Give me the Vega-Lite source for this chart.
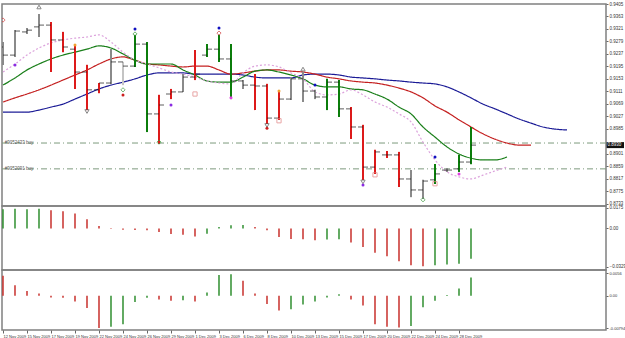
{
  "$schema": "https://vega.github.io/schema/vega-lite/v6.json",
  "background": "white",
  "padding": {"left": 0, "top": 0, "right": 0, "bottom": 0},
  "spacing": 0,
  "bounds": "flush",
  "config": {
    "view": {"stroke": "#808080", "strokeWidth": 1.5},
    "font": "Liberation Sans",
    "axis": {"labelFont": "Liberation Sans", "labelFontSize": 4.5, "labelColor": "#333333", "tickColor": "#666666", "grid": false, "domain": false, "title": null, "labelOverlap": false, "labelBound": false, "labelFlush": false, "tickCount": 100}
  },
  "datasets": {
    "bars": [
      {"i":0,"o":0.9260,"h":0.9277,"l":0.9200,"c":0.9233,"d":"n"},
      {"i":1,"o":0.9233,"h":0.9317,"l":0.9227,"c":0.9314,"d":"n"},
      {"i":2,"o":0.9311,"h":0.9324,"l":0.9304,"c":0.9317,"d":"n"},
      {"i":3,"o":0.9328,"h":0.9371,"l":0.9294,"c":0.9334,"d":"n"},
      {"i":4,"o":0.9334,"h":0.9344,"l":0.9176,"c":0.9284,"d":"d"},
      {"i":5,"o":0.9284,"h":0.9311,"l":0.9243,"c":0.9260,"d":"d"},
      {"i":6,"o":0.9253,"h":0.9270,"l":0.9119,"c":0.9176,"d":"d"},
      {"i":7,"o":0.9176,"h":0.9200,"l":0.9048,"c":0.9116,"d":"d"},
      {"i":8,"o":0.9116,"h":0.9139,"l":0.9105,"c":0.9139,"d":"d"},
      {"i":9,"o":0.9139,"h":0.9253,"l":0.9136,"c":0.9210,"d":"n"},
      {"i":10,"o":0.9210,"h":0.9210,"l":0.9132,"c":0.9196,"d":"l"},
      {"i":11,"o":0.9196,"h":0.9301,"l":0.9193,"c":0.9270,"d":"u"},
      {"i":12,"o":0.9270,"h":0.9277,"l":0.8974,"c":0.9035,"d":"u"},
      {"i":13,"o":0.9035,"h":0.9099,"l":0.8934,"c":0.9065,"d":"d"},
      {"i":14,"o":0.9102,"h":0.9119,"l":0.9085,"c":0.9109,"d":"d"},
      {"i":15,"o":0.9109,"h":0.9169,"l":0.9109,"c":0.9159,"d":"n"},
      {"i":16,"o":0.9159,"h":0.9250,"l":0.9149,"c":0.9169,"d":"d"},
      {"i":17,"o":0.9233,"h":0.9270,"l":0.9227,"c":0.9253,"d":"u"},
      {"i":18,"o":0.9253,"h":0.9301,"l":0.9210,"c":0.9220,"d":"u"},
      {"i":19,"o":0.9220,"h":0.9270,"l":0.9085,"c":0.9146,"d":"u"},
      {"i":20,"o":0.9146,"h":0.9149,"l":0.9119,"c":0.9132,"d":"n"},
      {"i":21,"o":0.9132,"h":0.9169,"l":0.9048,"c":0.9129,"d":"d"},
      {"i":22,"o":0.9129,"h":0.9136,"l":0.9001,"c":0.9021,"d":"d"},
      {"i":23,"o":0.9021,"h":0.9112,"l":0.9015,"c":0.9085,"d":"d"},
      {"i":24,"o":0.9085,"h":0.9159,"l":0.9082,"c":0.9153,"d":"n"},
      {"i":25,"o":0.9153,"h":0.9176,"l":0.9075,"c":0.9112,"d":"n"},
      {"i":26,"o":0.9112,"h":0.9116,"l":0.9085,"c":0.9092,"d":"n"},
      {"i":27,"o":0.9092,"h":0.9153,"l":0.9048,"c":0.9142,"d":"u"},
      {"i":28,"o":0.9142,"h":0.9149,"l":0.9025,"c":0.9052,"d":"u"},
      {"i":29,"o":0.9052,"h":0.9058,"l":0.8951,"c":0.8991,"d":"d"},
      {"i":30,"o":0.8991,"h":0.8998,"l":0.8813,"c":0.8856,"d":"d"},
      {"i":31,"o":0.8856,"h":0.8914,"l":0.8833,"c":0.8907,"d":"d"},
      {"i":32,"o":0.8897,"h":0.8910,"l":0.8887,"c":0.8897,"d":"d"},
      {"i":33,"o":0.8897,"h":0.8907,"l":0.8789,"c":0.8816,"d":"d"},
      {"i":34,"o":0.8816,"h":0.8846,"l":0.8755,"c":0.8779,"d":"n"},
      {"i":35,"o":0.8779,"h":0.8813,"l":0.8749,"c":0.8809,"d":"n"},
      {"i":36,"o":0.8813,"h":0.8866,"l":0.8799,"c":0.8833,"d":"u"},
      {"i":37,"o":0.8846,"h":0.8853,"l":0.8840,"c":0.8846,"d":"n"},
      {"i":38,"o":0.8850,"h":0.8897,"l":0.8840,"c":0.8873,"d":"u"},
      {"i":39,"o":0.8873,"h":0.8991,"l":0.8866,"c":0.8930,"d":"u"}
    ],
    "lines": [
      {"i":0,"s":"jaw","v":0.9041},{"i":1,"s":"jaw","v":0.9041},{"i":2,"s":"jaw","v":0.9041},{"i":3,"s":"jaw","v":0.9048},{"i":4,"s":"jaw","v":0.9058},{"i":5,"s":"jaw","v":0.9068},{"i":6,"s":"jaw","v":0.9085},{"i":7,"s":"jaw","v":0.9102},{"i":8,"s":"jaw","v":0.9119},{"i":9,"s":"jaw","v":0.9132},{"i":10,"s":"jaw","v":0.9142},{"i":11,"s":"jaw","v":0.9153},{"i":12,"s":"jaw","v":0.9166},{"i":13,"s":"jaw","v":0.9173},{"i":14,"s":"jaw","v":0.9173},{"i":15,"s":"jaw","v":0.9173},{"i":16,"s":"jaw","v":0.9169},{"i":17,"s":"jaw","v":0.9169},{"i":18,"s":"jaw","v":0.9169},{"i":19,"s":"jaw","v":0.9169},{"i":20,"s":"jaw","v":0.9166},{"i":21,"s":"jaw","v":0.9159},{"i":22,"s":"jaw","v":0.9156},{"i":23,"s":"jaw","v":0.9156},{"i":24,"s":"jaw","v":0.9156},{"i":25,"s":"jaw","v":0.9166},{"i":26,"s":"jaw","v":0.9169},{"i":27,"s":"jaw","v":0.9169},{"i":28,"s":"jaw","v":0.9166},{"i":29,"s":"jaw","v":0.9159},{"i":30,"s":"jaw","v":0.9156},{"i":31,"s":"jaw","v":0.9153},{"i":32,"s":"jaw","v":0.9149},{"i":33,"s":"jaw","v":0.9146},{"i":34,"s":"jaw","v":0.9142},{"i":35,"s":"jaw","v":0.9139},{"i":36,"s":"jaw","v":0.9136},{"i":37,"s":"jaw","v":0.9126},{"i":38,"s":"jaw","v":0.9109},{"i":39,"s":"jaw","v":0.9089},{"i":40,"s":"jaw","v":0.9068},{"i":41,"s":"jaw","v":0.9052},{"i":42,"s":"jaw","v":0.9035},{"i":43,"s":"jaw","v":0.9018},{"i":44,"s":"jaw","v":0.9004},{"i":45,"s":"jaw","v":0.8991},{"i":46,"s":"jaw","v":0.8984},{"i":47,"s":"jaw","v":0.8981},
      {"i":0,"s":"teeth","v":0.9075},{"i":1,"s":"teeth","v":0.9089},{"i":2,"s":"teeth","v":0.9102},{"i":3,"s":"teeth","v":0.9116},{"i":4,"s":"teeth","v":0.9132},{"i":5,"s":"teeth","v":0.9149},{"i":6,"s":"teeth","v":0.9166},{"i":7,"s":"teeth","v":0.9183},{"i":8,"s":"teeth","v":0.9203},{"i":9,"s":"teeth","v":0.9220},{"i":10,"s":"teeth","v":0.9227},{"i":11,"s":"teeth","v":0.9216},{"i":12,"s":"teeth","v":0.9203},{"i":13,"s":"teeth","v":0.9200},{"i":14,"s":"teeth","v":0.9196},{"i":15,"s":"teeth","v":0.9193},{"i":16,"s":"teeth","v":0.9196},{"i":17,"s":"teeth","v":0.9196},{"i":18,"s":"teeth","v":0.9183},{"i":19,"s":"teeth","v":0.9169},{"i":20,"s":"teeth","v":0.9173},{"i":21,"s":"teeth","v":0.9179},{"i":22,"s":"teeth","v":0.9183},{"i":23,"s":"teeth","v":0.9183},{"i":24,"s":"teeth","v":0.9179},{"i":25,"s":"teeth","v":0.9176},{"i":26,"s":"teeth","v":0.9169},{"i":27,"s":"teeth","v":0.9159},{"i":28,"s":"teeth","v":0.9153},{"i":29,"s":"teeth","v":0.9146},{"i":30,"s":"teeth","v":0.9142},{"i":31,"s":"teeth","v":0.9139},{"i":32,"s":"teeth","v":0.9132},{"i":33,"s":"teeth","v":0.9122},{"i":34,"s":"teeth","v":0.9109},{"i":35,"s":"teeth","v":0.9089},{"i":36,"s":"teeth","v":0.9062},{"i":37,"s":"teeth","v":0.9041},{"i":38,"s":"teeth","v":0.9015},{"i":39,"s":"teeth","v":0.8991},{"i":40,"s":"teeth","v":0.8968},{"i":41,"s":"teeth","v":0.8950},{"i":42,"s":"teeth","v":0.8937},{"i":43,"s":"teeth","v":0.8930},{"i":44,"s":"teeth","v":0.8930},
      {"i":0,"s":"lips","v":0.9132},{"i":1,"s":"lips","v":0.9156},{"i":2,"s":"lips","v":0.9183},{"i":3,"s":"lips","v":0.9203},{"i":4,"s":"lips","v":0.9220},{"i":5,"s":"lips","v":0.9233},{"i":6,"s":"lips","v":0.9243},{"i":7,"s":"lips","v":0.9253},{"i":8,"s":"lips","v":0.9264},{"i":9,"s":"lips","v":0.9257},{"i":10,"s":"lips","v":0.9237},{"i":11,"s":"lips","v":0.9216},{"i":12,"s":"lips","v":0.9203},{"i":13,"s":"lips","v":0.9203},{"i":14,"s":"lips","v":0.9203},{"i":15,"s":"lips","v":0.9183},{"i":16,"s":"lips","v":0.9166},{"i":17,"s":"lips","v":0.9146},{"i":18,"s":"lips","v":0.9142},{"i":19,"s":"lips","v":0.9142},{"i":20,"s":"lips","v":0.9159},{"i":21,"s":"lips","v":0.9179},{"i":22,"s":"lips","v":0.9183},{"i":23,"s":"lips","v":0.9176},{"i":24,"s":"lips","v":0.9166},{"i":25,"s":"lips","v":0.9153},{"i":26,"s":"lips","v":0.9132},{"i":27,"s":"lips","v":0.9126},{"i":28,"s":"lips","v":0.9126},{"i":29,"s":"lips","v":0.9119},{"i":30,"s":"lips","v":0.9116},{"i":31,"s":"lips","v":0.9102},{"i":32,"s":"lips","v":0.9085},{"i":33,"s":"lips","v":0.9058},{"i":34,"s":"lips","v":0.9035},{"i":35,"s":"lips","v":0.8991},{"i":36,"s":"lips","v":0.8957},{"i":37,"s":"lips","v":0.8924},{"i":38,"s":"lips","v":0.8900},{"i":39,"s":"lips","v":0.8886},{"i":40,"s":"lips","v":0.8880},{"i":41,"s":"lips","v":0.8880},{"i":42,"s":"lips","v":0.8890},
      {"i":0,"s":"ma","v":0.9176},{"i":1,"s":"ma","v":0.9203},{"i":2,"s":"ma","v":0.9233},{"i":3,"s":"ma","v":0.9257},{"i":4,"s":"ma","v":0.9274},{"i":5,"s":"ma","v":0.9284},{"i":6,"s":"ma","v":0.9290},{"i":7,"s":"ma","v":0.9294},{"i":8,"s":"ma","v":0.9301},{"i":9,"s":"ma","v":0.9277},{"i":10,"s":"ma","v":0.9243},{"i":11,"s":"ma","v":0.9216},{"i":12,"s":"ma","v":0.9203},{"i":13,"s":"ma","v":0.9190},{"i":14,"s":"ma","v":0.9176},{"i":15,"s":"ma","v":0.9169},{"i":16,"s":"ma","v":0.9159},{"i":17,"s":"ma","v":0.9146},{"i":18,"s":"ma","v":0.9139},{"i":19,"s":"ma","v":0.9136},{"i":20,"s":"ma","v":0.9173},{"i":21,"s":"ma","v":0.9196},{"i":22,"s":"ma","v":0.9200},{"i":23,"s":"ma","v":0.9193},{"i":24,"s":"ma","v":0.9173},{"i":25,"s":"ma","v":0.9153},{"i":26,"s":"ma","v":0.9109},{"i":27,"s":"ma","v":0.9099},{"i":28,"s":"ma","v":0.9102},{"i":29,"s":"ma","v":0.9116},{"i":30,"s":"ma","v":0.9099},{"i":31,"s":"ma","v":0.9075},{"i":32,"s":"ma","v":0.9058},{"i":33,"s":"ma","v":0.9035},{"i":34,"s":"ma","v":0.9008},{"i":35,"s":"ma","v":0.8940},{"i":36,"s":"ma","v":0.8880},{"i":37,"s":"ma","v":0.8840},{"i":38,"s":"ma","v":0.8823},{"i":39,"s":"ma","v":0.8816},{"i":40,"s":"ma","v":0.8829},{"i":41,"s":"ma","v":0.8843},{"i":42,"s":"ma","v":0.8856}
    ],
    "levels": [
      {"lv":0.8937,"t":"#9052433 buy"},
      {"lv":0.8850,"t":"#9052091 buy"}
    ],
    "marksO": [
      {"i":3,"p":0.9395,"k":"fup"},{"i":25,"p":0.9186,"k":"fup"},
      {"i":7,"p":0.9043,"k":"fdn"},{"i":22,"p":0.8996,"k":"fdn"},{"i":30,"p":0.8806,"k":"fdn"},
      {"i":10,"p":0.9116,"k":"buy"},{"i":13,"p":0.8940,"k":"buy"},{"i":35,"p":0.8746,"k":"buy"},{"i":11,"p":0.9304,"k":"buy"},
      {"i":18,"p":0.9307,"k":"sell"},{"i":0,"p":0.9351,"k":"sell"},
      {"i":16,"p":0.9102,"k":"box"},{"i":23,"p":0.9012,"k":"box"},{"i":31,"p":0.8830,"k":"box"},{"i":36,"p":0.8800,"k":"box"}
    ],
    "marksF": [
      {"i":11,"p":0.9321,"k":"blue"},{"i":18,"p":0.9324,"k":"blue"},{"i":26,"p":0.9132,"k":"blue"},{"i":36,"p":0.8890,"k":"blue"},
      {"i":1,"p":0.9200,"k":"purple"},{"i":14,"p":0.9065,"k":"purple"},{"i":30,"p":0.8796,"k":"purple"},
      {"i":10,"p":0.9099,"k":"red"},{"i":22,"p":0.8987,"k":"red"},
      {"i":6,"p":0.9267,"k":"orange"},{"i":23,"p":0.9112,"k":"orange"},
      {"i":19,"p":0.9089,"k":"magenta"},{"i":38,"p":0.8833,"k":"magenta"}
    ],
    "quote": [
      {"i0":50.3,"i1":51.75,"p":0.8930,"t":"0.8930"}
    ],
    "ao": [
      {"i":0,"v":0.0164,"d":"u"},{"i":1,"v":0.0169,"d":"u"},{"i":2,"v":0.0164,"d":"u"},{"i":3,"v":0.0169,"d":"u"},{"i":4,"v":0.0155,"d":"d"},{"i":5,"v":0.0147,"d":"d"},{"i":6,"v":0.0127,"d":"d"},{"i":7,"v":0.0078,"d":"d"},{"i":8,"v":0.0021,"d":"d"},{"i":9,"v":0.0004,"d":"d"},
      {"i":10,"v":-0.0012,"d":"d"},{"i":11,"v":-0.0014,"d":"d"},{"i":12,"v":-0.0016,"d":"d"},{"i":13,"v":-0.0030,"d":"d"},{"i":14,"v":-0.0047,"d":"d"},{"i":15,"v":-0.0053,"d":"d"},{"i":16,"v":-0.0068,"d":"d"},{"i":17,"v":-0.0045,"d":"u"},{"i":18,"v":0.0013,"d":"u"},{"i":19,"v":0.0027,"d":"u"},
      {"i":20,"v":0.0030,"d":"u"},{"i":21,"v":0.0013,"d":"d"},{"i":22,"v":-0.0016,"d":"d"},{"i":23,"v":-0.0073,"d":"d"},{"i":24,"v":-0.0090,"d":"d"},{"i":25,"v":-0.0092,"d":"d"},{"i":26,"v":-0.0101,"d":"d"},{"i":27,"v":-0.0095,"d":"u"},{"i":28,"v":-0.0092,"d":"u"},{"i":29,"v":-0.0121,"d":"d"},
      {"i":30,"v":-0.0158,"d":"d"},{"i":31,"v":-0.0207,"d":"d"},{"i":32,"v":-0.0238,"d":"d"},{"i":33,"v":-0.0280,"d":"d"},{"i":34,"v":-0.0314,"d":"d"},{"i":35,"v":-0.0323,"d":"d"},{"i":36,"v":-0.0314,"d":"u"},{"i":37,"v":-0.0309,"d":"u"},{"i":38,"v":-0.0301,"d":"u"},{"i":39,"v":-0.0258,"d":"u"}
    ],
    "ac": [
      {"i":0,"v":0.0049,"d":"d"},{"i":1,"v":0.0026,"d":"d"},{"i":2,"v":0.0012,"d":"d"},{"i":3,"v":0.0006,"d":"d"},{"i":4,"v":-0.0004,"d":"d"},{"i":5,"v":-0.0005,"d":"d"},{"i":6,"v":-0.0014,"d":"d"},{"i":7,"v":-0.0030,"d":"d"},{"i":8,"v":-0.0079,"d":"d"},{"i":9,"v":-0.0076,"d":"u"},
      {"i":10,"v":-0.0070,"d":"u"},{"i":11,"v":-0.0015,"d":"u"},{"i":12,"v":-0.0005,"d":"u"},{"i":13,"v":-0.0009,"d":"d"},{"i":14,"v":-0.0012,"d":"d"},{"i":15,"v":-0.0011,"d":"u"},{"i":16,"v":-0.0014,"d":"d"},{"i":17,"v":0.0008,"d":"u"},{"i":18,"v":0.0051,"d":"u"},{"i":19,"v":0.0053,"d":"u"},
      {"i":20,"v":0.0037,"d":"d"},{"i":21,"v":0.0006,"d":"d"},{"i":22,"v":-0.0020,"d":"d"},{"i":23,"v":-0.0036,"d":"d"},{"i":24,"v":-0.0033,"d":"u"},{"i":25,"v":-0.0021,"d":"u"},{"i":26,"v":-0.0014,"d":"u"},{"i":27,"v":-0.0004,"d":"u"},{"i":28,"v":0.0004,"d":"u"},{"i":29,"v":-0.0009,"d":"d"},
      {"i":30,"v":-0.0024,"d":"d"},{"i":31,"v":-0.0070,"d":"d"},{"i":32,"v":-0.0076,"d":"d"},{"i":33,"v":-0.0078,"d":"d"},{"i":34,"v":-0.0074,"d":"u"},{"i":35,"v":-0.0028,"d":"u"},{"i":36,"v":-0.0012,"d":"u"},{"i":37,"v":0.0002,"d":"u"},{"i":38,"v":0.0018,"d":"u"},{"i":39,"v":0.0045,"d":"u"}
    ]
  },
  "vconcat": [
    {
      "width": 604,
      "height": 202,
      "resolve": {"scale": {"color": "independent", "shape": "independent", "size": "independent", "strokeDash": "independent"}},
      "layer": [
        {
          "data": {"name": "bars"},
          "mark": {"type": "rule", "strokeWidth": 2, "clip": true},
          "encoding": {
            "x": {"field": "i", "type": "quantitative", "scale": {"domain": [-0.083, 50.25], "zero": false, "nice": false}, "axis": null},
            "y": {"field": "l", "type": "quantitative", "scale": {"domain": [0.8725, 0.9405], "zero": false, "nice": false},
                  "axis": {"orient": "right", "values": [0.9405, 0.9363, 0.9321, 0.9279, 0.9237, 0.9195, 0.9153, 0.9111, 0.9069, 0.9027, 0.8985, 0.8901, 0.8859, 0.8817, 0.8775, 0.8733], "format": ".4f", "tickSize": 2, "labelPadding": 1, "labelOverlap": false, "tickCount": 100}},
            "y2": {"field": "h"},
            "color": {"field": "d", "type": "nominal", "scale": {"domain": ["u", "d", "n", "l"], "range": ["#0b7d0b", "#dd1a1a", "#8a8a8a", "#c4c4c4"]}, "legend": null}
          }
        },
        {
          "data": {"name": "levels"},
          "mark": {"type": "rule", "color": "#7d9a7d", "strokeWidth": 1, "strokeDash": [6, 3, 1, 3]},
          "encoding": {
            "y": {"field": "lv", "type": "quantitative"}
          }
        },
        {
          "data": {"name": "levels"},
          "mark": {"type": "text", "align": "left", "baseline": "middle", "fontSize": 4.5, "color": "#555555"},
          "encoding": {
            "x": {"datum": 0.15, "type": "quantitative", "axis": null},
            "y": {"field": "lv", "type": "quantitative"},
            "text": {"field": "t"}
          }
        },
        {
          "data": {"name": "lines"},
          "mark": {"type": "line", "strokeWidth": 1.2, "interpolate": "monotone", "clip": true},
          "encoding": {
            "x": {"field": "i", "type": "quantitative", "axis": null},
            "y": {"field": "v", "type": "quantitative"},
            "color": {"field": "s", "type": "nominal", "scale": {"domain": ["jaw", "teeth", "lips", "ma"], "range": ["#1b1b96", "#c42020", "#1a7f1a", "#dca2dc"]}, "legend": null},
            "strokeDash": {"field": "s", "type": "nominal", "scale": {"domain": ["jaw", "teeth", "lips", "ma"], "range": [[1, 0], [1, 0], [1, 0], [2, 2]]}, "legend": null}
          }
        },
        {
          "data": {"name": "bars"},
          "mark": {"type": "rule", "strokeWidth": 2, "clip": true},
          "encoding": {
            "x": {"field": "i", "type": "quantitative", "axis": null},
            "y": {"field": "l", "type": "quantitative"},
            "y2": {"field": "h"},
            "color": {"field": "d", "type": "nominal", "scale": {"domain": ["u", "d", "n", "l"], "range": ["#0b7d0b", "#dd1a1a", "#8a8a8a", "#c4c4c4"]}, "legend": null}
          }
        },
        {
          "data": {"name": "bars"},
          "mark": {"type": "tick", "orient": "horizontal", "size": 5, "thickness": 1, "xOffset": -2.5, "color": "#1a1a1a", "clip": true},
          "encoding": {
            "x": {"field": "i", "type": "quantitative", "axis": null},
            "y": {"field": "o", "type": "quantitative"}
          }
        },
        {
          "data": {"name": "bars"},
          "mark": {"type": "tick", "orient": "horizontal", "size": 5, "thickness": 1, "xOffset": 2.5, "color": "#1a1a1a", "clip": true},
          "encoding": {
            "x": {"field": "i", "type": "quantitative", "axis": null},
            "y": {"field": "c", "type": "quantitative"}
          }
        },
        {
          "data": {"name": "marksO"},
          "mark": {"type": "point", "filled": false, "strokeWidth": 1, "clip": true},
          "encoding": {
            "x": {"field": "i", "type": "quantitative", "axis": null},
            "y": {"field": "p", "type": "quantitative"},
            "shape": {"field": "k", "type": "nominal", "scale": {"domain": ["fup", "fdn", "buy", "sell", "box"], "range": ["triangle-up", "triangle-down", "diamond", "diamond", "square"]}, "legend": null},
            "color": {"field": "k", "type": "nominal", "scale": {"domain": ["fup", "fdn", "buy", "sell", "box"], "range": ["#555555", "#555555", "#3a9a3a", "#d04040", "#e08080"]}, "legend": null},
            "size": {"field": "k", "type": "nominal", "scale": {"domain": ["fup", "fdn", "buy", "sell", "box"], "range": [18, 18, 30, 30, 10]}, "legend": null}
          }
        },
        {
          "data": {"name": "marksF"},
          "mark": {"type": "circle", "opacity": 1, "clip": true},
          "encoding": {
            "x": {"field": "i", "type": "quantitative", "axis": null},
            "y": {"field": "p", "type": "quantitative"},
            "color": {"field": "k", "type": "nominal", "scale": {"domain": ["blue", "purple", "red", "orange", "magenta"], "range": ["#1010c0", "#8a2be2", "#cc2020", "#f0a030", "#e040e0"]}, "legend": null},
            "size": {"field": "k", "type": "nominal", "scale": {"domain": ["blue", "purple", "red", "orange", "magenta"], "range": [9, 9, 9, 28, 28]}, "legend": null}
          }
        },
        {
          "mark": {"type": "text", "text": "AUDUSDm,Daily  0.8873 0.8991 0.8866 0.8930", "align": "left", "baseline": "top", "fontSize": 4.5, "color": "#222222"},
          "encoding": {
            "x": {"datum": 0.1, "type": "quantitative", "axis": null},
            "y": {"datum": 0.9400, "type": "quantitative"}
          }
        },
        {
          "data": {"name": "quote"},
          "mark": {"type": "rule", "color": "#111111", "strokeWidth": 6, "strokeCap": "butt"},
          "encoding": {
            "x": {"field": "i0", "type": "quantitative", "axis": null},
            "x2": {"field": "i1"},
            "y": {"field": "p", "type": "quantitative"}
          }
        },
        {
          "data": {"name": "quote"},
          "mark": {"type": "text", "align": "left", "baseline": "middle", "fontSize": 4.5, "color": "white", "dx": 1},
          "encoding": {
            "x": {"field": "i0", "type": "quantitative", "axis": null},
            "y": {"field": "p", "type": "quantitative"},
            "text": {"field": "t"}
          }
        }
      ]
    },
    {
      "width": 604,
      "height": 64,
      "layer": [
        {
          "data": {"name": "ao"},
          "mark": {"type": "rule", "strokeWidth": 1.5, "clip": true},
          "encoding": {
            "x": {"field": "i", "type": "quantitative", "scale": {"domain": [-0.083, 50.25], "zero": false, "nice": false}, "axis": null},
            "y": {"field": "v", "type": "quantitative", "scale": {"domain": [-0.0355, 0.0192], "zero": false, "nice": false},
                  "axis": {"orient": "right", "values": [0.0175, 0, -0.0329], "labelExpr": "datum.value == 0 ? '0.00' : format(datum.value, '.4f')", "tickSize": 2, "labelPadding": 1, "labelOverlap": false, "tickCount": 100}},
            "y2": {"datum": 0},
            "color": {"field": "d", "type": "nominal", "scale": {"domain": ["u", "d"], "range": ["#2f8f2f", "#c8302c"]}, "legend": null}
          }
        },
        {
          "mark": {"type": "text", "text": "AO -0.0257", "align": "left", "baseline": "middle", "fontSize": 4.5, "color": "#222222"},
          "encoding": {
            "x": {"datum": 0.1, "type": "quantitative", "axis": null},
            "y": {"datum": 0.0150, "type": "quantitative"}
          }
        }
      ]
    },
    {
      "width": 604,
      "height": 60,
      "layer": [
        {
          "data": {"name": "ac"},
          "mark": {"type": "rule", "strokeWidth": 1.5, "clip": true},
          "encoding": {
            "x": {"field": "i", "type": "quantitative", "scale": {"domain": [-0.083, 50.25], "zero": false, "nice": false},
                  "axis": {"orient": "bottom", "values": [0, 2, 4, 6, 8, 10, 12, 14, 16, 18, 20, 22, 24, 26, 28, 30, 32, 34, 36, 38],
                           "labelExpr": "['12 Nov 2009','15 Nov 2009','17 Nov 2009','19 Nov 2009','22 Nov 2009','24 Nov 2009','26 Nov 2009','29 Nov 2009','1 Dec 2009','3 Dec 2009','6 Dec 2009','8 Dec 2009','10 Dec 2009','13 Dec 2009','15 Dec 2009','17 Dec 2009','20 Dec 2009','22 Dec 2009','24 Dec 2009','28 Dec 2009'][round(datum.value / 2)]",
                           "labelAlign": "left", "labelBaseline": "top", "labelFontSize": 4, "tickSize": 3, "labelPadding": 1, "labelOverlap": false, "labelBound": false, "labelFlush": false, "tickCount": 100}},
            "y": {"field": "v", "type": "quantitative", "scale": {"domain": [-0.00839, 0.00634], "zero": false, "nice": false},
                  "axis": {"orient": "right", "values": [0.0056, 0, -0.00794], "labelExpr": "datum.value == 0 ? '0.00' : (datum.value < 0 ? '-0.00794' : '0.0056')", "labelFontSize": 4, "tickSize": 2, "labelPadding": 1, "labelOverlap": false, "tickCount": 100}},
            "y2": {"datum": 0},
            "color": {"field": "d", "type": "nominal", "scale": {"domain": ["u", "d"], "range": ["#2f8f2f", "#c8302c"]}, "legend": null}
          }
        },
        {
          "mark": {"type": "text", "text": "AC 0.004529", "align": "left", "baseline": "middle", "fontSize": 4.5, "color": "#222222"},
          "encoding": {
            "x": {"datum": 0.1, "type": "quantitative"},
            "y": {"datum": 0.0046, "type": "quantitative"}
          }
        }
      ]
    }
  ]
}
